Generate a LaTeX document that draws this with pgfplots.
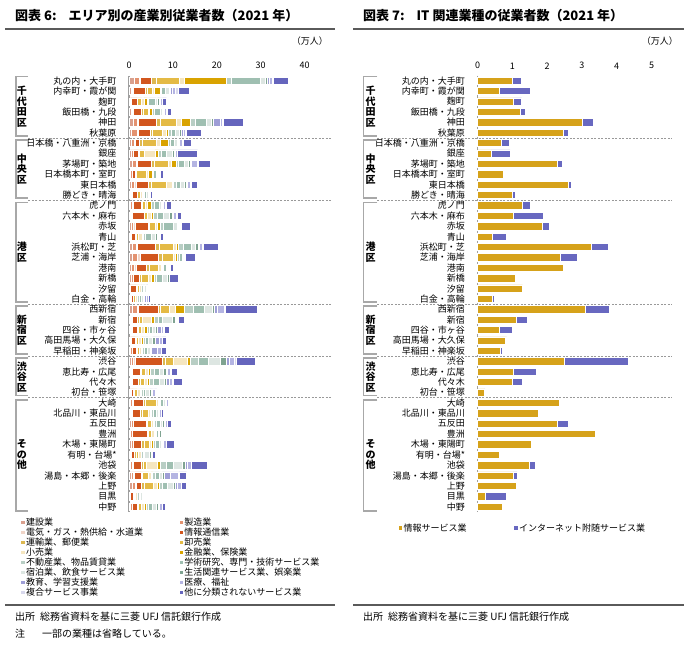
\documentclass[border=0pt]{standalone}
\usepackage{fontspec}
\setmainfont{Noto Sans CJK JP}
\usepackage{pgfplots}
\pgfplotsset{compat=1.18}
\usepackage{pgfplotstable}

\definecolor{c1}{HTML}{D9A08E}
\definecolor{c2}{HTML}{E39270}
\definecolor{c3}{HTML}{F0D5C8}
\definecolor{c4}{HTML}{D2561E}
\definecolor{c5}{HTML}{DDB850}
\definecolor{c6}{HTML}{E4BA45}
\definecolor{c7}{HTML}{F5E6C0}
\definecolor{c8}{HTML}{D9A300}
\definecolor{c9}{HTML}{B8CEC4}
\definecolor{c10}{HTML}{9FBFB1}
\definecolor{c11}{HTML}{DDE6E2}
\definecolor{c12}{HTML}{7FA391}
\definecolor{c13}{HTML}{9E9ED6}
\definecolor{c14}{HTML}{B4B4E2}
\definecolor{c15}{HTML}{D8D8EC}
\definecolor{c16}{HTML}{6565BD}
\definecolor{itgold}{HTML}{D6A21A}
\definecolor{itpurple}{HTML}{6868C0}
\definecolor{brk}{HTML}{A8A8A8}
\definecolor{rule}{HTML}{5A5A5A}

% r: row, a1..a16 = industries (10k persons)
\pgfplotstableread{
r  a1  a2  a3  a4  a5  a6  a7  a8  a9  a10 a11 a12 a13 a14 a15 a16
0  1.3 1.1 0.2 2.4 1.2 5.2 1.1 9.6 1.2 6.5 1.3 0.5 0.4 0.7 0.2 3.4
1  0.5 0.2 0.2 2.9 0.3 1.3 0.3 1.4 0.3 0.9 0.9 0.3 0.3 0.8 0.6 2.5
2  0.3 0.2 0.0 1.3 0.2 0.9 0.5 0.7 0.4 1.6 0.4 0.3 0.3 0.4 0.1 0.9
3  0.5 0.3 0.1 1.9 0.4 1.2 0.3 0.6 0.5 1.3 0.5 0.2 0.3 0.5 0.1 1.0
4  1.0 0.8 0.3 4.2 0.8 3.6 1.2 2.0 1.2 2.6 1.0 0.4 1.6 0.5 0.3 4.6
5  0.5 1.5 0.2 2.7 0.5 2.2 0.8 0.5 0.7 1.0 0.9 0.4 0.4 0.6 0.2 3.3
6  0.6 0.7 0.1 1.0 0.7 3.1 0.9 1.9 0.5 0.9 0.6 0.3 0.2 0.6 0.3 1.9
7  0.5 0.4 0.1 1.1 0.3 1.2 2.3 0.8 0.7 1.2 1.3 0.5 0.2 0.4 0.1 4.5
8  0.7 1.0 0.3 3.0 0.8 3.2 0.6 1.1 0.6 1.3 0.9 0.5 0.3 1.2 0.3 2.7
9  0.3 0.4 0.0 0.8 0.2 2.3 0.5 0.8 0.3 0.6 0.3 0.2 0.1 0.3 0.1 0.6
10 0.5 0.8 0.3 2.7 0.7 3.6 1.2 0.4 0.6 1.0 0.7 0.5 0.2 0.8 0.3 1.3
11 0.4 0.2 0.1 1.1 0.2 0.5 0.6 0.1 0.3 0.4 0.5 0.2 0.1 0.2 0.0 0.5
12 0.3 0.4 0.2 1.8 0.3 0.8 0.3 1.0 0.7 1.2 0.4 0.3 0.2 0.4 0.1 1.3
13 0.3 0.2 0.2 2.7 0.2 0.6 0.8 0.5 0.9 1.5 1.4 0.6 0.3 0.6 0.2 1.0
14 0.6 0.5 0.3 2.9 0.4 1.2 0.6 0.7 0.6 2.3 0.8 0.4 0.2 0.3 0.2 1.9
15 0.3 0.2 0.0 0.9 0.2 0.6 0.8 0.2 0.6 1.4 0.8 0.5 0.2 0.3 0.1 0.7
16 0.8 0.9 0.3 3.9 0.9 3.3 0.6 0.6 1.1 1.9 0.9 0.5 0.4 0.6 0.2 3.4
17 0.8 1.2 0.5 4.2 1.0 2.4 0.5 0.3 0.6 0.7 0.2 0.1 0.1 0.2 0.0 2.2
18 0.5 0.8 0.3 2.3 0.7 2.0 0.7 0.3 0.3 0.6 0.3 0.2 0.1 0.3 0.0 0.7
19 0.5 0.4 0.1 1.4 0.5 1.5 0.7 0.6 0.6 1.2 1.2 0.4 0.1 0.1 0.0 1.9
20 0.1 0.1 0.0 1.5 0.2 0.5 0.3 0.2 0.3 0.4 0.3 0.1 0.0 0.1 0.0 0.2
21 0.4 0.1 0.0 0.4 0.2 0.3 0.5 0.1 0.4 0.4 0.5 0.3 0.3 0.6 0.0 0.4
22 0.8 1.0 0.3 4.6 0.5 2.0 1.4 1.9 2.2 2.5 1.7 0.6 0.7 1.4 0.3 7.3
23 0.3 0.3 0.1 1.3 0.3 0.7 2.1 0.6 1.0 1.0 2.2 0.6 0.2 0.4 0.1 1.3
24 0.4 0.2 0.1 1.2 0.3 0.7 0.7 0.5 0.5 0.8 0.7 0.3 1.0 0.5 0.1 1.2
25 0.3 0.2 0.0 0.9 0.3 0.4 0.8 0.3 0.6 0.5 1.1 0.5 0.9 0.7 0.1 0.8
26 0.4 0.3 0.0 0.9 0.2 0.5 0.5 0.2 0.5 0.6 0.7 0.3 1.4 0.8 0.1 1.2
27 0.6 0.5 0.3 6.3 0.6 1.9 3.1 0.6 2.0 2.2 2.6 1.5 0.6 1.3 0.4 4.2
28 0.3 0.3 0.1 1.8 0.3 0.9 0.6 0.5 1.0 1.2 0.9 0.5 0.3 0.8 0.2 1.2
29 0.3 0.3 0.1 1.5 0.3 1.0 0.7 0.5 0.9 1.3 1.1 0.5 0.6 0.8 0.1 2.2
30 0.3 0.3 0.0 0.4 0.3 0.5 0.8 0.2 0.5 0.5 0.9 0.4 0.3 0.5 0.1 0.3
31 0.3 0.5 0.1 2.4 0.5 2.4 0.4 0.2 0.4 0.7 0.4 0.2 0.1 0.3 0.0 0.4
32 0.3 0.3 0.1 1.9 0.4 1.4 0.5 0.2 0.4 0.7 0.5 0.2 0.1 0.3 0.0 0.5
33 0.5 0.4 0.1 2.9 0.3 0.9 0.5 0.2 0.5 0.8 0.6 0.3 0.2 0.5 0.1 0.9
34 0.3 0.4 0.1 3.4 0.3 0.7 0.6 0.1 0.3 0.4 0.4 0.3 0.2 0.3 0.0 0.2
35 0.6 0.3 0.2 1.7 0.6 1.3 0.5 0.3 0.5 0.8 0.5 0.3 0.2 0.6 0.1 1.8
36 0.3 0.2 0.1 0.7 0.4 0.4 0.6 0.1 0.4 0.4 1.0 0.4 0.1 0.3 0.0 0.5
37 0.4 0.4 0.1 1.8 0.5 0.8 2.4 0.7 1.4 1.6 2.0 0.8 0.4 0.8 0.1 3.7
38 0.6 0.5 0.1 1.5 0.4 1.4 0.6 0.3 0.6 0.8 0.8 0.4 1.5 1.8 0.1 1.7
39 0.7 0.8 0.2 1.2 0.5 2.2 0.9 0.4 0.8 1.0 1.3 0.5 0.4 1.0 0.1 1.0
40 0.2 0.1 0.0 0.8 0.1 0.3 0.4 0.1 0.3 0.3 0.4 0.2 0.2 0.2 0.0 0.2
41 0.4 0.3 0.1 1.0 0.4 0.6 0.8 0.3 0.6 0.8 0.9 0.4 0.3 0.7 0.1 0.5
}\industry

% IT-related: info services, internet-based services
\pgfplotstableread{
r  info net
0  1.00 0.27
1  0.63 0.90
2  1.03 0.24
3  1.23 0.14
4  3.02 0.31
5  2.47 0.13
6  0.68 0.23
7  0.39 0.55
8  2.28 0.16
9  0.73 0.00
10 2.60 0.09
11 0.99 0.11
12 1.30 0.23
13 1.03 0.87
14 1.87 0.19
15 0.44 0.38
16 3.26 0.49
17 2.39 0.49
18 2.47 0.00
19 1.08 0.05
20 1.30 0.00
21 0.43 0.04
22 3.10 0.69
23 1.11 0.33
24 0.62 0.37
25 0.81 0.03
26 0.67 0.04
27 2.49 1.85
28 1.03 0.65
29 0.99 0.30
30 0.19 0.03
31 2.36 0.03
32 1.74 0.00
33 2.28 0.33
34 3.38 0.00
35 1.54 0.00
36 0.63 0.00
37 1.48 0.17
38 1.02 0.12
39 1.11 0.03
40 0.22 0.60
41 0.72 0.00
}\itdata

\pgfplotsset{
  arealabels/.style={yticklabels={丸の内・大手町,内幸町・霞が関,麹町,飯田橋・九段,神田,秋葉原,
    日本橋・八重洲・京橋,銀座,茅場町・築地,日本橋本町・室町,東日本橋,勝どき・晴海,
    虎ノ門,六本木・麻布,赤坂,青山,浜松町・芝,芝浦・海岸,港南,新橋,汐留,白金・高輪,
    西新宿,新宿,四谷・市ヶ谷,高田馬場・大久保,早稲田・神楽坂,
    渋谷,恵比寿・広尾,代々木,初台・笹塚,
    大崎,北品川・東品川,五反田,豊洲,木場・東陽町,有明・台場*,池袋,湯島・本郷・後楽,上野,目黒,中野}},
  areaaxis/.style={
    scale only axis, height=436.4pt,
    y dir=reverse, ymin=-0.5, ymax=41.5, ytick={0,...,41}, arealabels,
    xbar stacked, bar width=7.3pt, clip=false,
    axis line style={draw=none}, major tick length=0pt, tick style={draw=none},
    xticklabel pos=upper,
    tick label style={font=\fontsize{9}{9}\selectfont},
    xticklabel style={yshift=3pt},
    yticklabel style={xshift=-9pt},
    /pgf/number format/assume math mode=true,
    legend cell align=left,
    legend image code/.code={\path[#1,draw=none] (0pt,-1.7pt) rectangle (3.4pt,1.7pt);},
  },
  seg/.style={fill=#1, draw=white, line width=0.7pt},
}

\tikzset{grp/.style={align=center, inner sep=0pt, font=\bfseries\fontsize{10}{10.5}\selectfont}}

\begin{document}
\begin{tikzpicture}[x=1pt,y=1pt]
\useasboundingbox (0,0) rectangle (694,-651);

% ---------- titles and rules ----------
\node[anchor=west,inner sep=0pt] at (15,-16) {\bfseries\fontsize{13}{14}\selectfont 図表 6:\hspace{12pt}エリア別の産業別従業者数（2021 年）};
\node[anchor=west,inner sep=0pt] at (363,-16) {\bfseries\fontsize{13}{14}\selectfont 図表 7:\hspace{12pt}IT 関連業種の従業者数（2021 年）};
\draw[rule,line width=1.8pt] (5,-29) -- (335,-29);
\draw[rule,line width=1.8pt] (353,-29) -- (684,-29);
\node[anchor=east,inner sep=0pt,font=\fontsize{9}{9}\selectfont] at (328,-41) {（万人）};
\node[anchor=east,inner sep=0pt,font=\fontsize{9}{9}\selectfont] at (678,-41) {（万人）};
\draw[rule,line width=1.8pt] (5,-605) -- (335,-605);
\draw[rule,line width=1.8pt] (353,-605) -- (684,-605);
\node[anchor=west,inner sep=0pt,font=\fontsize{10}{11}\selectfont] at (15,-617) {出所\hspace{5pt}総務省資料を基に三菱 UFJ 信託銀行作成};
\node[anchor=west,inner sep=0pt,font=\fontsize{10}{11}\selectfont] at (15,-634) {注\hspace{17pt}一部の業種は省略している。};
\node[anchor=west,inner sep=0pt,font=\fontsize{10}{11}\selectfont] at (363,-617) {出所\hspace{5pt}総務省資料を基に三菱 UFJ 信託銀行作成};

% ---------- left: industries ----------
\begin{axis}[areaaxis, at={(129pt,-512pt)}, anchor=south west,
  width=202pt, xmin=0, xmax=46, xtick={0,10,20,30,40},
  legend columns=2,
  legend style={at={(-0.535,-0.012)}, anchor=north west, draw=none, fill=none,
    font=\fontsize{9}{9}\selectfont, inner sep=0pt, row sep=0pt,
    nodes={inner ysep=0.5pt, inner xsep=1.5pt, text height=7.4pt, text depth=1.6pt}},
]
\addplot[seg=c1]  table[x=a1,y=r]{\industry}; \addlegendentry{\makebox[152pt][l]{建設業}}
\addplot[seg=c2]  table[x=a2,y=r]{\industry}; \addlegendentry{製造業}
\addplot[seg=c3]  table[x=a3,y=r]{\industry}; \addlegendentry{\makebox[152pt][l]{電気・ガス・熱供給・水道業}}
\addplot[seg=c4]  table[x=a4,y=r]{\industry}; \addlegendentry{情報通信業}
\addplot[seg=c5]  table[x=a5,y=r]{\industry}; \addlegendentry{\makebox[152pt][l]{運輸業、郵便業}}
\addplot[seg=c6]  table[x=a6,y=r]{\industry}; \addlegendentry{卸売業}
\addplot[seg=c7]  table[x=a7,y=r]{\industry}; \addlegendentry{\makebox[152pt][l]{小売業}}
\addplot[seg=c8]  table[x=a8,y=r]{\industry}; \addlegendentry{金融業、保険業}
\addplot[seg=c9]  table[x=a9,y=r]{\industry}; \addlegendentry{\makebox[152pt][l]{不動産業、物品賃貸業}}
\addplot[seg=c10] table[x=a10,y=r]{\industry}; \addlegendentry{学術研究、専門・技術サービス業}
\addplot[seg=c11] table[x=a11,y=r]{\industry}; \addlegendentry{\makebox[152pt][l]{宿泊業、飲食サービス業}}
\addplot[seg=c12] table[x=a12,y=r]{\industry}; \addlegendentry{生活関連サービス業、娯楽業}
\addplot[seg=c13] table[x=a13,y=r]{\industry}; \addlegendentry{\makebox[152pt][l]{教育、学習支援業}}
\addplot[seg=c14] table[x=a14,y=r]{\industry}; \addlegendentry{医療、福祉}
\addplot[seg=c15] table[x=a15,y=r]{\industry}; \addlegendentry{\makebox[152pt][l]{複合サービス事業}}
\addplot[seg=c16] table[x=a16,y=r]{\industry}; \addlegendentry{他に分類されないサービス業}

\draw[gray!75,line width=1.2pt] (axis cs:0,-0.5) -- (axis cs:0,41.5);
\draw[gray!80,line width=0.6pt,dash pattern=on 2pt off 1.5pt] (axis cs:-23,5.5) -- (axis cs:46,5.5);
\draw[gray!80,line width=0.6pt,dash pattern=on 2pt off 1.5pt] (axis cs:-23,11.5) -- (axis cs:46,11.5);
\draw[gray!80,line width=0.6pt,dash pattern=on 2pt off 1.5pt] (axis cs:-23,21.5) -- (axis cs:46,21.5);
\draw[gray!80,line width=0.6pt,dash pattern=on 2pt off 1.5pt] (axis cs:-23,26.5) -- (axis cs:46,26.5);
\draw[gray!80,line width=0.6pt,dash pattern=on 2pt off 1.5pt] (axis cs:-23,30.5) -- (axis cs:46,30.5);
\draw[brk,line width=1.6pt] (axis cs:-23,-0.4) -- (axis cs:-25.7,-0.4) -- (axis cs:-25.7,5.3) -- (axis cs:-23,5.3);
\draw[brk,line width=1.6pt] (axis cs:-23,5.7) -- (axis cs:-25.7,5.7) -- (axis cs:-25.7,11.3) -- (axis cs:-23,11.3);
\draw[brk,line width=1.6pt] (axis cs:-23,11.7) -- (axis cs:-25.7,11.7) -- (axis cs:-25.7,21.3) -- (axis cs:-23,21.3);
\draw[brk,line width=1.6pt] (axis cs:-23,21.7) -- (axis cs:-25.7,21.7) -- (axis cs:-25.7,26.3) -- (axis cs:-23,26.3);
\draw[brk,line width=1.6pt] (axis cs:-23,26.7) -- (axis cs:-25.7,26.7) -- (axis cs:-25.7,30.3) -- (axis cs:-23,30.3);
\draw[brk,line width=1.6pt] (axis cs:-23,30.7) -- (axis cs:-25.7,30.7) -- (axis cs:-25.7,41.4) -- (axis cs:-23,41.4);
\node[grp] at (axis cs:-24.4,2.5) {千\\代\\田\\区};
\node[grp] at (axis cs:-24.4,8.5) {中\\央\\区};
\node[grp] at (axis cs:-24.4,16.5) {港\\区};
\node[grp] at (axis cs:-24.4,24) {新\\宿\\区};
\node[grp] at (axis cs:-24.4,28.5) {渋\\谷\\区};
\node[grp] at (axis cs:-24.4,36) {そ\\の\\他};
\end{axis}

% ---------- right: IT-related ----------
\begin{axis}[areaaxis, at={(477.5pt,-512pt)}, anchor=south west,
  width=194.9pt, xmin=0, xmax=5.6, xtick={0,1,2,3,4,5},
  legend columns=2,
  legend style={at={(-0.405,-0.025)}, anchor=north west, draw=none, fill=none,
    font=\fontsize{9}{9}\selectfont, inner sep=0pt,
    nodes={inner ysep=0.5pt, inner xsep=1.5pt, text height=7.4pt, text depth=1.6pt}},
]
\addplot[seg=itgold]   table[x=info,y=r]{\itdata}; \addlegendentry{\makebox[109pt][l]{情報サービス業}}
\addplot[seg=itpurple] table[x=net,y=r]{\itdata};  \addlegendentry{インターネット附随サービス業}

\draw[gray!75,line width=1.2pt] (axis cs:0,-0.5) -- (axis cs:0,41.5);
\draw[gray!80,line width=0.6pt,dash pattern=on 2pt off 1.5pt] (axis cs:-2.88,5.5) -- (axis cs:5.6,5.5);
\draw[gray!80,line width=0.6pt,dash pattern=on 2pt off 1.5pt] (axis cs:-2.88,11.5) -- (axis cs:5.6,11.5);
\draw[gray!80,line width=0.6pt,dash pattern=on 2pt off 1.5pt] (axis cs:-2.88,21.5) -- (axis cs:5.6,21.5);
\draw[gray!80,line width=0.6pt,dash pattern=on 2pt off 1.5pt] (axis cs:-2.88,26.5) -- (axis cs:5.6,26.5);
\draw[gray!80,line width=0.6pt,dash pattern=on 2pt off 1.5pt] (axis cs:-2.88,30.5) -- (axis cs:5.6,30.5);
\draw[brk,line width=1.6pt] (axis cs:-2.88,-0.4) -- (axis cs:-3.28,-0.4) -- (axis cs:-3.28,5.3) -- (axis cs:-2.88,5.3);
\draw[brk,line width=1.6pt] (axis cs:-2.88,5.7) -- (axis cs:-3.28,5.7) -- (axis cs:-3.28,11.3) -- (axis cs:-2.88,11.3);
\draw[brk,line width=1.6pt] (axis cs:-2.88,11.7) -- (axis cs:-3.28,11.7) -- (axis cs:-3.28,21.3) -- (axis cs:-2.88,21.3);
\draw[brk,line width=1.6pt] (axis cs:-2.88,21.7) -- (axis cs:-3.28,21.7) -- (axis cs:-3.28,26.3) -- (axis cs:-2.88,26.3);
\draw[brk,line width=1.6pt] (axis cs:-2.88,26.7) -- (axis cs:-3.28,26.7) -- (axis cs:-3.28,30.3) -- (axis cs:-2.88,30.3);
\draw[brk,line width=1.6pt] (axis cs:-2.88,30.7) -- (axis cs:-3.28,30.7) -- (axis cs:-3.28,41.4) -- (axis cs:-2.88,41.4);
\node[grp] at (axis cs:-3.07,2.5) {千\\代\\田\\区};
\node[grp] at (axis cs:-3.07,8.5) {中\\央\\区};
\node[grp] at (axis cs:-3.07,16.5) {港\\区};
\node[grp] at (axis cs:-3.07,24) {新\\宿\\区};
\node[grp] at (axis cs:-3.07,28.5) {渋\\谷\\区};
\node[grp] at (axis cs:-3.07,36) {そ\\の\\他};
\end{axis}
\end{tikzpicture}
\end{document}
